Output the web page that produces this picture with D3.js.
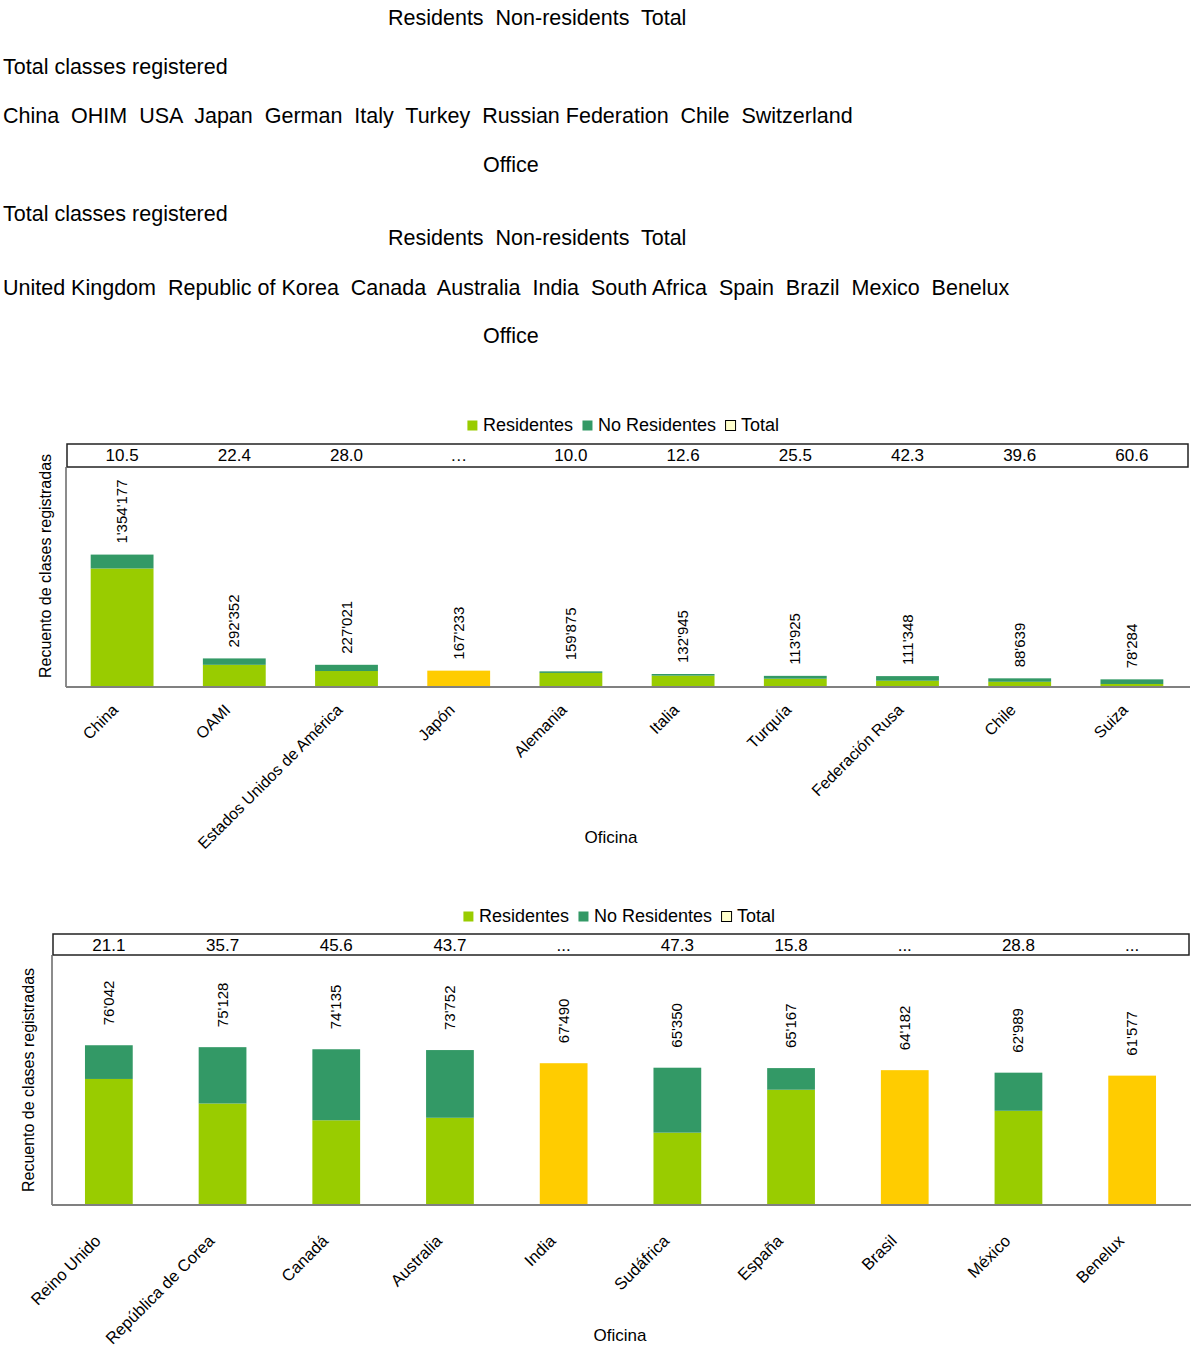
<!DOCTYPE html>
<html>
<head>
<meta charset="utf-8">
<script src="https://cdn.jsdelivr.net/npm/d3@7"></script>
<style>
  body { margin: 0; background: #fff; }
  svg { display: block; font-family: Arial, "Liberation Sans", sans-serif; }
</style>
</head>
<body>
<svg id="chart" width="1192" height="1349"></svg>
<script>
// english caption lines at the top
var legendEn = ['Residents', 'Non-residents', 'Total'];
var officesEn1 = ['China', 'OHIM', 'USA', 'Japan', 'German', 'Italy', 'Turkey', 'Russian Federation', 'Chile', 'Switzerland'];
var officesEn2 = ['United Kingdom', 'Republic of Korea', 'Canada', 'Australia', 'India', 'South Africa', 'Spain', 'Brazil', 'Mexico', 'Benelux'];

var legendEs = ['Residentes', 'No Residentes', 'Total'];

// chart 1
var offices1 = ['China', 'OAMI', 'Estados Unidos de América', 'Japón', 'Alemania', 'Italia', 'Turquía', 'Federación Rusa', 'Chile', 'Suiza'];
var total1 = [1354177, 292352, 227021, 167233, 159875, 132945, 113925, 111348, 88639, 78284];
var residents1 = [1211988, 226865, 163455, null, 143887, 116194, 84874, 64248, 53538, 30844];
var nonResidents1 = [142189, 65487, 63566, null, 15988, 16751, 29051, 47100, 35101, 47440];
var share1 = ['10.5', '22.4', '28.0', '…', '10.0', '12.6', '25.5', '42.3', '39.6', '60.6'];

// chart 2
var offices2 = ['Reino Unido', 'República de Corea', 'Canadá', 'Australia', 'India', 'Sudáfrica', 'España', 'Brasil', 'México', 'Benelux'];
var total2 = [76042, 75128, 74135, 73752, 67490, 65350, 65167, 64182, 62989, 61577];
var residents2 = [59997, 48307, 40329, 41522, null, 34439, 54871, null, 44848, null];
var nonResidents2 = [16045, 26821, 33806, 32230, null, 30911, 10296, null, 18141, null];
var share2 = ['21.1', '35.7', '45.6', '43.7', '...', '47.3', '15.8', '...', '28.8', '...'];

var colors = {res: '#99cc00', nonres: '#339966', total: '#ffcc00'};
var fmt = d3.formatLocale({decimal: '.', thousands: "'", grouping: [3], currency: ['', '']}).format(',');

var svg = d3.select('#chart');

// plain text block
var lines = [
  {text: legendEn.join('  '), x: 388, y: 25},
  {text: 'Total classes registered', x: 3, y: 74},
  {text: officesEn1.join('  '), x: 3, y: 123},
  {text: 'Office', x: 483, y: 172},
  {text: 'Total classes registered', x: 3, y: 221},
  {text: legendEn.join('  '), x: 388, y: 245},
  {text: officesEn2.join('  '), x: 3, y: 295},
  {text: 'Office', x: 483, y: 343}
];
svg.append('g').selectAll('text')
  .data(lines)
  .enter().append('text')
    .attr('x', function(d) { return d.x; })
    .attr('y', function(d) { return d.y; })
    .attr('xml:space', 'preserve')
    .style('white-space', 'pre')
    .attr('font-size', 21.5)
    .attr('fill', '#000')
    .text(function(d) { return d.text; });

function drawChart(cfg) {
  var rows = cfg.offices.map(function(o, i) {
    return {office: o, total: cfg.total[i], res: cfg.residents[i], nonres: cfg.nonResidents[i], share: cfg.share[i]};
  });

  var x = d3.scaleBand()
    .domain(cfg.offices)
    .range([cfg.left, cfg.right])
    .paddingInner(cfg.pad)
    .paddingOuter(cfg.pad / 2);
  var y = d3.scaleLinear()
    .domain([0, cfg.yMax])
    .range([cfg.base, cfg.boxBottom]);

  var g = svg.append('g');
  var cx = function(d) { return x(d.office) + x.bandwidth() / 2; };

  // legend, centred on legendX
  var lg = g.append('g');
  var items = [
    {label: legendEs[0], fill: colors.res, stroke: 'none'},
    {label: legendEs[1], fill: colors.nonres, stroke: 'none'},
    {label: legendEs[2], fill: '#ffffcc', stroke: '#000'}
  ];
  var lx = 0;
  items.forEach(function(it) {
    lg.append('rect')
      .attr('x', lx + 0.5).attr('y', cfg.legendY - 10.5)
      .attr('width', 10).attr('height', 10)
      .attr('fill', it.fill).attr('stroke', it.stroke).attr('stroke-width', 1);
    var t = lg.append('text')
      .attr('x', lx + 16).attr('y', cfg.legendY)
      .attr('font-size', 18).attr('fill', '#000')
      .text(it.label);
    lx += 16 + t.node().getComputedTextLength() + 9;
  });
  lx -= 9;
  lg.attr('transform', 'translate(' + (cfg.legendX - lx / 2) + ',0)');

  // top box with non-resident shares
  g.append('rect')
    .attr('x', cfg.left + 1).attr('y', cfg.boxTop)
    .attr('width', cfg.right - cfg.left - 1).attr('height', cfg.boxBottom - cfg.boxTop)
    .attr('fill', 'none').attr('stroke', '#222').attr('stroke-width', 1.5);
  g.append('g').selectAll('text')
    .data(rows)
    .enter().append('text')
      .attr('x', cx)
      .attr('y', cfg.boxBottom - cfg.shareDy)
      .attr('text-anchor', 'middle')
      .attr('font-size', 17)
      .attr('fill', '#000')
      .text(function(d) { return d.share; });

  // bars
  var bw = x.bandwidth();
  var bars = g.append('g');
  rows.forEach(function(d) {
    if (d.res == null) {
      bars.append('rect')
        .attr('x', x(d.office)).attr('width', bw)
        .attr('y', y(d.total)).attr('height', y(0) - y(d.total))
        .attr('fill', colors.total);
    } else {
      bars.append('rect')
        .attr('x', x(d.office)).attr('width', bw)
        .attr('y', y(d.res)).attr('height', y(0) - y(d.res))
        .attr('fill', colors.res);
      bars.append('rect')
        .attr('x', x(d.office)).attr('width', bw)
        .attr('y', y(d.res + d.nonres)).attr('height', y(d.res) - y(d.res + d.nonres))
        .attr('fill', colors.nonres);
    }
  });

  // value labels
  g.append('g').selectAll('text')
    .data(rows)
    .enter().append('text')
      .attr('transform', function(d) {
        return 'translate(' + (cx(d) + 5) + ',' + (y(d.total) - cfg.labelGap) + ') rotate(-90)';
      })
      .attr('font-size', 15)
      .attr('fill', '#000')
      .text(function(d) { return fmt(d.total); });

  // axes lines
  g.append('line')
    .attr('x1', cfg.left).attr('x2', cfg.left)
    .attr('y1', cfg.boxBottom).attr('y2', cfg.base)
    .attr('stroke', '#666').attr('stroke-width', 1.5);
  g.append('line')
    .attr('x1', cfg.left).attr('x2', cfg.right + 2)
    .attr('y1', cfg.base).attr('y2', cfg.base)
    .attr('stroke', '#808080').attr('stroke-width', 2);

  // category labels
  g.append('g').selectAll('text')
    .data(rows)
    .enter().append('text')
      .attr('transform', function(d) {
        return 'translate(' + (cx(d) + cfg.tickDx) + ',' + (cfg.base + cfg.tickDy) + ') rotate(-45)';
      })
      .attr('text-anchor', 'end')
      .attr('font-size', cfg.tickSize)
      .attr('fill', '#000')
      .text(function(d) { return d.office; });

  // axis titles
  g.append('text')
    .attr('transform', 'translate(' + cfg.yTitleX + ',' + cfg.yTitleY + ') rotate(-90)')
    .attr('text-anchor', 'middle')
    .attr('font-size', 16)
    .attr('fill', '#000')
    .text('Recuento de clases registradas');
  g.append('text')
    .attr('x', cfg.xTitleX).attr('y', cfg.xTitleY)
    .attr('text-anchor', 'middle')
    .attr('font-size', 17)
    .attr('fill', '#000')
    .text('Oficina');
}

drawChart({
  offices: offices1, total: total1, residents: residents1, nonResidents: nonResidents1, share: share1,
  left: 66, right: 1188, pad: 0.44, yMax: 2250000,
  base: 687, boxTop: 444, boxBottom: 467, shareDy: 6,
  legendX: 623, legendY: 431, labelGap: 11,
  tickDx: -3, tickDy: 24, tickSize: 16,
  yTitleX: 51, yTitleY: 566, xTitleX: 611, xTitleY: 843
});

drawChart({
  offices: offices2, total: total2, residents: residents2, nonResidents: nonResidents2, share: share2,
  left: 52, right: 1189, pad: 0.58, yMax: 119000,
  base: 1205, boxTop: 934, boxBottom: 955, shareDy: 4,
  legendX: 619, legendY: 922, labelGap: 20,
  tickDx: -7, tickDy: 37, tickSize: 16.5,
  yTitleX: 34, yTitleY: 1080, xTitleX: 620, xTitleY: 1341
});
</script>
</body>
</html>
